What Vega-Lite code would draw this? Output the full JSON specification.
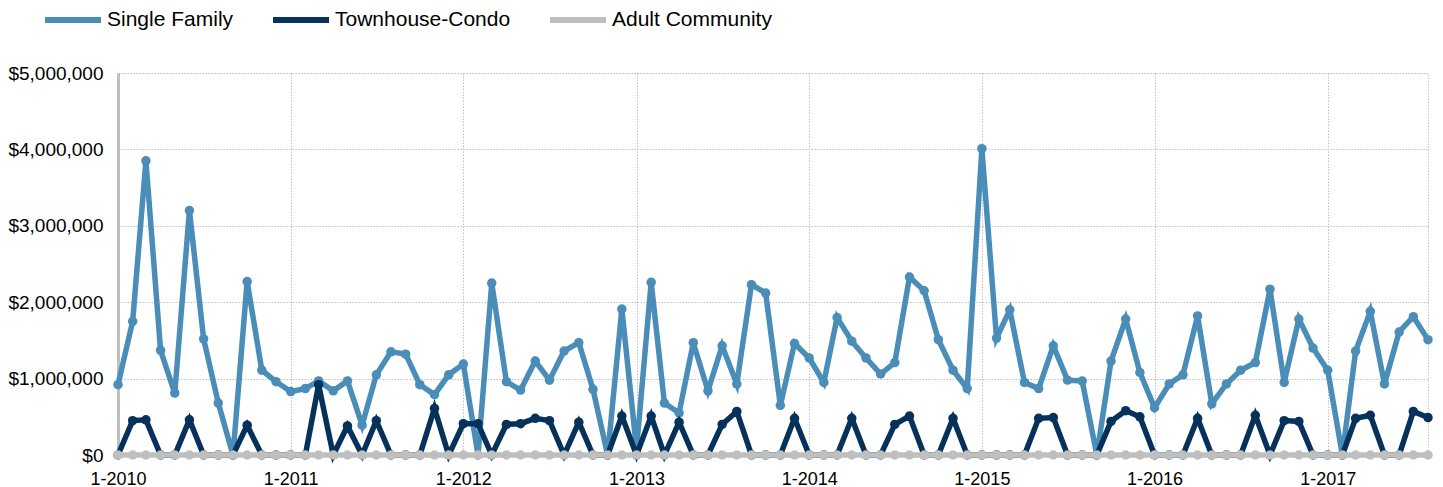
{
  "$schema": "https://vega.github.io/schema/vega-lite/v6.json",
  "width": 1310,
  "height": 382,
  "autosize": {"type": "none"},
  "padding": {"left": 118, "top": 73, "right": 15, "bottom": 32},
  "config": {
    "font": "Liberation Sans",
    "view": {"stroke": "#c4c4c4", "strokeDash": [1.5, 1.5], "strokeWidth": 1},
    "background": "white"
  },
  "data": {
    "format": {"parse": {"d": "utc:'%Y-%m'"}},
    "values": [
      {"d": "2010-01", "Single Family": 920000, "Townhouse-Condo": 0, "Adult Community": 0},
      {"d": "2010-02", "Single Family": 1750000, "Townhouse-Condo": 450000, "Adult Community": 0},
      {"d": "2010-03", "Single Family": 3850000, "Townhouse-Condo": 460000, "Adult Community": 0},
      {"d": "2010-04", "Single Family": 1370000, "Townhouse-Condo": 0, "Adult Community": 0},
      {"d": "2010-05", "Single Family": 810000, "Townhouse-Condo": 0, "Adult Community": 0},
      {"d": "2010-06", "Single Family": 3200000, "Townhouse-Condo": 460000, "Adult Community": 0},
      {"d": "2010-07", "Single Family": 1520000, "Townhouse-Condo": 0, "Adult Community": 0},
      {"d": "2010-08", "Single Family": 680000, "Townhouse-Condo": 0, "Adult Community": 0},
      {"d": "2010-09", "Single Family": 0, "Townhouse-Condo": 0, "Adult Community": 0},
      {"d": "2010-10", "Single Family": 2270000, "Townhouse-Condo": 390000, "Adult Community": 0},
      {"d": "2010-11", "Single Family": 1110000, "Townhouse-Condo": 0, "Adult Community": 0},
      {"d": "2010-12", "Single Family": 960000, "Townhouse-Condo": 0, "Adult Community": 0},
      {"d": "2011-01", "Single Family": 830000, "Townhouse-Condo": 0, "Adult Community": 0},
      {"d": "2011-02", "Single Family": 870000, "Townhouse-Condo": 0, "Adult Community": 0},
      {"d": "2011-03", "Single Family": 970000, "Townhouse-Condo": 920000, "Adult Community": 0},
      {"d": "2011-04", "Single Family": 840000, "Townhouse-Condo": 0, "Adult Community": 0},
      {"d": "2011-05", "Single Family": 970000, "Townhouse-Condo": 380000, "Adult Community": 0},
      {"d": "2011-06", "Single Family": 390000, "Townhouse-Condo": 0, "Adult Community": 0},
      {"d": "2011-07", "Single Family": 1050000, "Townhouse-Condo": 450000, "Adult Community": 0},
      {"d": "2011-08", "Single Family": 1350000, "Townhouse-Condo": 0, "Adult Community": 0},
      {"d": "2011-09", "Single Family": 1320000, "Townhouse-Condo": 0, "Adult Community": 0},
      {"d": "2011-10", "Single Family": 920000, "Townhouse-Condo": 0, "Adult Community": 0},
      {"d": "2011-11", "Single Family": 790000, "Townhouse-Condo": 610000, "Adult Community": 0},
      {"d": "2011-12", "Single Family": 1050000, "Townhouse-Condo": 0, "Adult Community": 0},
      {"d": "2012-01", "Single Family": 1190000, "Townhouse-Condo": 410000, "Adult Community": 0},
      {"d": "2012-02", "Single Family": 0, "Townhouse-Condo": 410000, "Adult Community": 0},
      {"d": "2012-03", "Single Family": 2250000, "Townhouse-Condo": 0, "Adult Community": 0},
      {"d": "2012-04", "Single Family": 960000, "Townhouse-Condo": 400000, "Adult Community": 0},
      {"d": "2012-05", "Single Family": 850000, "Townhouse-Condo": 410000, "Adult Community": 0},
      {"d": "2012-06", "Single Family": 1230000, "Townhouse-Condo": 480000, "Adult Community": 0},
      {"d": "2012-07", "Single Family": 980000, "Townhouse-Condo": 450000, "Adult Community": 0},
      {"d": "2012-08", "Single Family": 1360000, "Townhouse-Condo": 0, "Adult Community": 0},
      {"d": "2012-09", "Single Family": 1470000, "Townhouse-Condo": 430000, "Adult Community": 0},
      {"d": "2012-10", "Single Family": 860000, "Townhouse-Condo": 0, "Adult Community": 0},
      {"d": "2012-11", "Single Family": 0, "Townhouse-Condo": 0, "Adult Community": 0},
      {"d": "2012-12", "Single Family": 1910000, "Townhouse-Condo": 510000, "Adult Community": 0},
      {"d": "2013-01", "Single Family": 80000, "Townhouse-Condo": 0, "Adult Community": 0},
      {"d": "2013-02", "Single Family": 2260000, "Townhouse-Condo": 510000, "Adult Community": 0},
      {"d": "2013-03", "Single Family": 680000, "Townhouse-Condo": 0, "Adult Community": 0},
      {"d": "2013-04", "Single Family": 550000, "Townhouse-Condo": 430000, "Adult Community": 0},
      {"d": "2013-05", "Single Family": 1470000, "Townhouse-Condo": 0, "Adult Community": 0},
      {"d": "2013-06", "Single Family": 840000, "Townhouse-Condo": 0, "Adult Community": 0},
      {"d": "2013-07", "Single Family": 1430000, "Townhouse-Condo": 400000, "Adult Community": 0},
      {"d": "2013-08", "Single Family": 930000, "Townhouse-Condo": 570000, "Adult Community": 0},
      {"d": "2013-09", "Single Family": 2230000, "Townhouse-Condo": 0, "Adult Community": 0},
      {"d": "2013-10", "Single Family": 2120000, "Townhouse-Condo": 0, "Adult Community": 0},
      {"d": "2013-11", "Single Family": 650000, "Townhouse-Condo": 0, "Adult Community": 0},
      {"d": "2013-12", "Single Family": 1460000, "Townhouse-Condo": 480000, "Adult Community": 0},
      {"d": "2014-01", "Single Family": 1270000, "Townhouse-Condo": 0, "Adult Community": 0},
      {"d": "2014-02", "Single Family": 950000, "Townhouse-Condo": 0, "Adult Community": 0},
      {"d": "2014-03", "Single Family": 1800000, "Townhouse-Condo": 0, "Adult Community": 0},
      {"d": "2014-04", "Single Family": 1490000, "Townhouse-Condo": 480000, "Adult Community": 0},
      {"d": "2014-05", "Single Family": 1270000, "Townhouse-Condo": 0, "Adult Community": 0},
      {"d": "2014-06", "Single Family": 1060000, "Townhouse-Condo": 0, "Adult Community": 0},
      {"d": "2014-07", "Single Family": 1210000, "Townhouse-Condo": 400000, "Adult Community": 0},
      {"d": "2014-08", "Single Family": 2330000, "Townhouse-Condo": 510000, "Adult Community": 0},
      {"d": "2014-09", "Single Family": 2150000, "Townhouse-Condo": 0, "Adult Community": 0},
      {"d": "2014-10", "Single Family": 1510000, "Townhouse-Condo": 0, "Adult Community": 0},
      {"d": "2014-11", "Single Family": 1110000, "Townhouse-Condo": 480000, "Adult Community": 0},
      {"d": "2014-12", "Single Family": 870000, "Townhouse-Condo": 0, "Adult Community": 0},
      {"d": "2015-01", "Single Family": 4010000, "Townhouse-Condo": 0, "Adult Community": 0},
      {"d": "2015-02", "Single Family": 1530000, "Townhouse-Condo": 0, "Adult Community": 0},
      {"d": "2015-03", "Single Family": 1900000, "Townhouse-Condo": 0, "Adult Community": 0},
      {"d": "2015-04", "Single Family": 950000, "Townhouse-Condo": 0, "Adult Community": 0},
      {"d": "2015-05", "Single Family": 870000, "Townhouse-Condo": 480000, "Adult Community": 0},
      {"d": "2015-06", "Single Family": 1430000, "Townhouse-Condo": 490000, "Adult Community": 0},
      {"d": "2015-07", "Single Family": 980000, "Townhouse-Condo": 0, "Adult Community": 0},
      {"d": "2015-08", "Single Family": 970000, "Townhouse-Condo": 0, "Adult Community": 0},
      {"d": "2015-09", "Single Family": 0, "Townhouse-Condo": 0, "Adult Community": 0},
      {"d": "2015-10", "Single Family": 1230000, "Townhouse-Condo": 440000, "Adult Community": 0},
      {"d": "2015-11", "Single Family": 1780000, "Townhouse-Condo": 580000, "Adult Community": 0},
      {"d": "2015-12", "Single Family": 1080000, "Townhouse-Condo": 500000, "Adult Community": 0},
      {"d": "2016-01", "Single Family": 620000, "Townhouse-Condo": 0, "Adult Community": 0},
      {"d": "2016-02", "Single Family": 930000, "Townhouse-Condo": 0, "Adult Community": 0},
      {"d": "2016-03", "Single Family": 1050000, "Townhouse-Condo": 0, "Adult Community": 0},
      {"d": "2016-04", "Single Family": 1820000, "Townhouse-Condo": 480000, "Adult Community": 0},
      {"d": "2016-05", "Single Family": 670000, "Townhouse-Condo": 0, "Adult Community": 0},
      {"d": "2016-06", "Single Family": 930000, "Townhouse-Condo": 0, "Adult Community": 0},
      {"d": "2016-07", "Single Family": 1110000, "Townhouse-Condo": 0, "Adult Community": 0},
      {"d": "2016-08", "Single Family": 1210000, "Townhouse-Condo": 520000, "Adult Community": 0},
      {"d": "2016-09", "Single Family": 2170000, "Townhouse-Condo": 0, "Adult Community": 0},
      {"d": "2016-10", "Single Family": 950000, "Townhouse-Condo": 450000, "Adult Community": 0},
      {"d": "2016-11", "Single Family": 1780000, "Townhouse-Condo": 440000, "Adult Community": 0},
      {"d": "2016-12", "Single Family": 1400000, "Townhouse-Condo": 0, "Adult Community": 0},
      {"d": "2017-01", "Single Family": 1110000, "Townhouse-Condo": 0, "Adult Community": 0},
      {"d": "2017-02", "Single Family": 0, "Townhouse-Condo": 0, "Adult Community": 0},
      {"d": "2017-03", "Single Family": 1360000, "Townhouse-Condo": 480000, "Adult Community": 0},
      {"d": "2017-04", "Single Family": 1880000, "Townhouse-Condo": 520000, "Adult Community": 0},
      {"d": "2017-05", "Single Family": 930000, "Townhouse-Condo": 0, "Adult Community": 0},
      {"d": "2017-06", "Single Family": 1610000, "Townhouse-Condo": 0, "Adult Community": 0},
      {"d": "2017-07", "Single Family": 1810000, "Townhouse-Condo": 570000, "Adult Community": 0},
      {"d": "2017-08", "Single Family": 1510000, "Townhouse-Condo": 490000, "Adult Community": 0}
    ]
  },
  "transform": [
    {"fold": ["Single Family", "Townhouse-Condo", "Adult Community"], "as": ["series", "value"]}
  ],
  "encoding": {
    "x": {
      "field": "d",
      "type": "temporal",
      "scale": {"type": "utc", "nice": false},
      "axis": {
        "title": null,
        "format": "%-m-%Y",
        "values": [
          {"year": 2010, "month": 1, "date": 1, "utc": true},
          {"year": 2011, "month": 1, "date": 1, "utc": true},
          {"year": 2012, "month": 1, "date": 1, "utc": true},
          {"year": 2013, "month": 1, "date": 1, "utc": true},
          {"year": 2014, "month": 1, "date": 1, "utc": true},
          {"year": 2015, "month": 1, "date": 1, "utc": true},
          {"year": 2016, "month": 1, "date": 1, "utc": true},
          {"year": 2017, "month": 1, "date": 1, "utc": true}
        ],
        "domain": false,
        "ticks": false,
        "tickSize": 0,
        "labelFlush": false,
        "labelOverlap": false,
        "labelFontSize": 18,
        "labelColor": "#000000",
        "labelPadding": 15,
        "grid": true,
        "gridColor": "#c0c0c0",
        "gridDash": [1.5, 1.5],
        "gridWidth": 1
      }
    },
    "y": {
      "field": "value",
      "type": "quantitative",
      "scale": {"domain": [0, 5000000], "nice": false},
      "axis": {
        "title": null,
        "values": [0, 1000000, 2000000, 3000000, 4000000, 5000000],
        "format": "$,.0f",
        "domain": true,
        "domainColor": "#bfbfbf",
        "domainWidth": 3,
        "ticks": false,
        "tickSize": 0,
        "labelFontSize": 19,
        "labelColor": "#000000",
        "labelPadding": 15,
        "grid": true,
        "gridColor": "#c0c0c0",
        "gridDash": [1.5, 1.5],
        "gridWidth": 1
      }
    },
    "color": {
      "field": "series",
      "type": "nominal",
      "scale": {
        "domain": ["Single Family", "Townhouse-Condo", "Adult Community"],
        "range": ["#4a8db8", "#05315a", "#bfbfbf"]
      },
      "legend": {
        "title": null,
        "orient": "none",
        "legendX": -76,
        "legendY": -84,
        "direction": "horizontal",
        "symbolType": "stroke",
        "symbolSize": 3136,
        "symbolStrokeWidth": 6,
        "labelFontSize": 21,
        "labelLimit": 0,
        "labelColor": "#000000",
        "labelOffset": 3,
        "columnPadding": 27,
        "padding": 0
      }
    }
  },
  "layer": [
    {
      "transform": [{"filter": "datum.series === 'Single Family'"}],
      "mark": {"type": "line", "strokeWidth": 5.5, "point": {"filled": true, "size": 90}}
    },
    {
      "transform": [{"filter": "datum.series === 'Townhouse-Condo'"}],
      "mark": {"type": "line", "strokeWidth": 5.5, "point": {"filled": true, "size": 90}}
    },
    {
      "transform": [{"filter": "datum.series === 'Adult Community'"}],
      "mark": {"type": "line", "strokeWidth": 5.5, "point": {"filled": true, "size": 90}}
    }
  ]
}
